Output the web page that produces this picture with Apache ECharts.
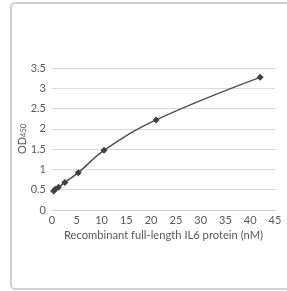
<!DOCTYPE html>
<html>
<head>
<meta charset="utf-8">
<script src="https://cdn.jsdelivr.net/npm/echarts@6/dist/echarts.min.js"></script>
<style>
  html, body { margin: 0; padding: 0; background: #fff; }
  #chart { width: 287px; height: 291px; }
</style>
</head>
<body>
<div id="chart"></div>
<script>
// IL6 concentration (nM) vs OD450
const concentrations = [0.33, 0.66, 1.3, 2.6, 5.3, 10.5, 21, 42]
const odValues = [0.47, 0.51, 0.56, 0.68, 0.92, 1.47, 2.22, 3.27]

const chart = echarts.init(document.getElementById('chart'), null, { renderer: 'canvas' })
const txt = '#595959'

chart.setOption({
  animation: false,
  graphic: [{
    type: 'rect',
    shape: { x: 11, y: 3, width: 300, height: 286, r: 4 },
    style: { fill: 'none', stroke: '#d0d0d0', lineWidth: 2 },
    z: -1
  }],
  grid: { left: 52, right: 12, top: 68, bottom: 81 },
  xAxis: {
    type: 'value',
    min: 0, max: 45, interval: 5,
    name: 'Recombinant full-length IL6 protein (nM)',
    nameLocation: 'middle',
    nameGap: 20,
    nameTextStyle: { color: txt, fontFamily: 'Lato', fontSize: 11.2 },
    axisLine: { show: true, lineStyle: { color: '#d0d0d0' } },
    axisTick: { show: false },
    axisLabel: { color: txt, fontFamily: 'Lato', fontSize: 11, margin: 5 },
    splitLine: { show: false }
  },
  yAxis: {
    type: 'value',
    min: 0, max: 3.5, interval: 0.5,
    name: '{a|OD}{b|450}',
    nameLocation: 'middle',
    nameRotate: 90,
    nameMoveOverlap: false,
    nameGap: 24,
    nameTextStyle: {
      color: txt,
      rich: {
        a: { fontFamily: 'Lato', fontSize: 11, color: txt },
        b: { fontFamily: 'Lato', fontSize: 7.5, color: txt, verticalAlign: 'bottom', padding: [4, 0, 0, 0] }
      }
    },
    axisLine: { show: false },
    axisTick: { show: false },
    axisLabel: { color: txt, fontFamily: 'Lato', fontSize: 11, margin: 6 },
    splitLine: { lineStyle: { color: '#d9d9d9', width: 1 } }
  },
  series: [{
    type: 'line',
    data: concentrations.map((c, i) => [c, odValues[i]]),
    smooth: 0.4,
    symbol: 'diamond',
    symbolSize: 7,
    showAllSymbol: true,
    lineStyle: { color: '#505050', width: 1.5 },
    itemStyle: { color: '#404040' }
  }]
})
</script>
</body>
</html>
